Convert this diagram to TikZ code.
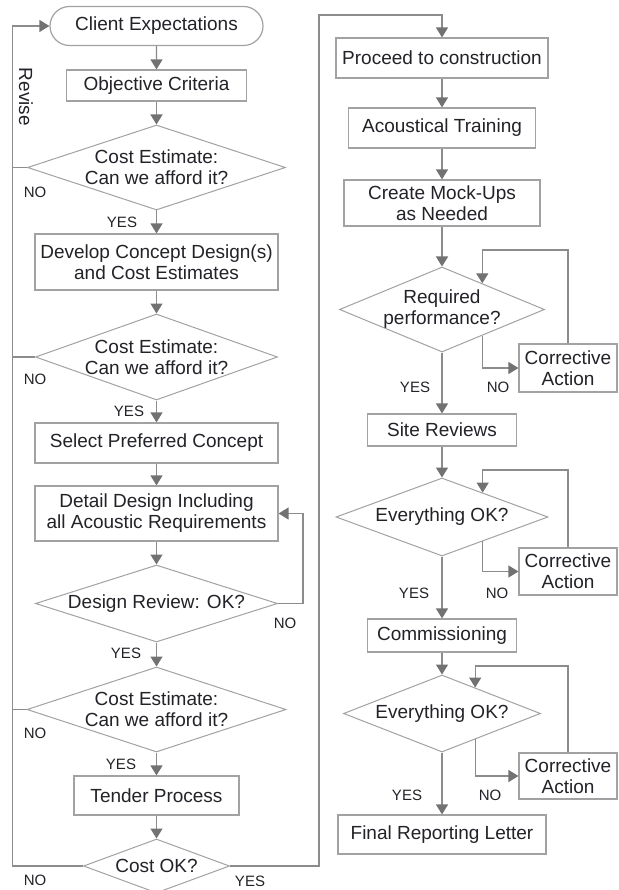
\documentclass[tikz,border=0pt]{standalone}
\usepackage{fontspec}
\setmainfont{Liberation Sans}
\usetikzlibrary{shapes.geometric,shapes.misc,arrows.meta}
\definecolor{ln}{HTML}{8C8C8C}
\definecolor{bd}{HTML}{A2A2A2}
\definecolor{tx}{HTML}{222228}
\definecolor{ah}{HTML}{727272}
\begin{document}
\begin{tikzpicture}[x=1pt,y=-1pt,
  box/.style={draw=bd,line width=1.2pt,rectangle,inner sep=0pt,fill=white,text=tx,
    font=\fontsize{19}{21}\selectfont,align=center},
  term/.style={box,rounded rectangle},
  dia/.style={draw=bd,line width=1pt,diamond,inner sep=0pt,aspect=1},
  txt/.style={text=tx,font=\fontsize{19}{21}\selectfont,align=center,inner sep=0pt},
  lab/.style={text=tx,font=\fontsize{15}{17}\selectfont,inner sep=0pt},
  conn/.style={draw=ln,line width=1.3pt},
  arr/.style={conn,-{Triangle[width=12pt,length=10pt,color=ah]}},
]
\useasboundingbox[fill=white] (0,0) rectangle (618,890);

% ---------- left column ----------
\node[term,minimum width=213pt,minimum height=39pt] (ce) at (156.5,26) {Client Expectations};
\node[box,minimum width=180pt,minimum height=31pt] (oc) at (156.5,85.5) {Objective Criteria};
\node[dia,minimum width=258pt,minimum height=85pt] (d1) at (156.5,167.5) {};
\node[txt] (d1t) at (d1) {Cost Estimate:\\Can we afford it?};
\node[box,minimum width=243pt,minimum height=56pt] (dev) at (156.5,262) {Develop Concept Design(s)\\and Cost Estimates};
\node[dia,minimum width=242pt,minimum height=86pt] (d2) at (156.5,357) {};
\node[txt] (d2t) at (d2) {Cost Estimate:\\Can we afford it?};
\node[box,minimum width=243pt,minimum height=40pt] (sel) at (156.5,443) {Select Preferred Concept};
\node[box,minimum width=243pt,minimum height=55pt] (det) at (156.5,513.5) {Detail Design Including\\all Acoustic Requirements};
\node[dia,minimum width=242pt,minimum height=77pt] (d3) at (156.5,603.5) {};
\node[txt] (d3t) at (d3) {Design Review: OK?};
\node[dia,minimum width=259pt,minimum height=85pt] (d4) at (156.5,709.5) {};
\node[txt] (d4t) at (d4) {Cost Estimate:\\Can we afford it?};
\node[box,minimum width=165pt,minimum height=39pt] (ten) at (156.5,795.5) {Tender Process};
\node[dia,minimum width=146pt,minimum height=54pt] (d5) at (156.5,866) {};
\node[txt] (d5t) at (d5) {Cost OK?};

% ---------- right column ----------
\node[box,minimum width=212pt,minimum height=40pt] (pro) at (442,58) {Proceed to construction};
\node[box,minimum width=187pt,minimum height=40pt] (acu) at (442,128) {Acoustical Training};
\node[box,minimum width=196pt,minimum height=46pt] (moc) at (442,203) {Create Mock-Ups\\as Needed};
\node[dia,minimum width=205pt,minimum height=85pt] (rp) at (442,309.5) {};
\node[txt] (rpt) at (rp) {Required\\performance?};
\node[box,minimum width=98pt,minimum height=48pt] (ca1) at (568,368) {Corrective\\Action};
\node[box,minimum width=149pt,minimum height=32pt] (sr) at (442,430) {Site Reviews};
\node[dia,minimum width=212pt,minimum height=78pt] (ok1) at (442,517) {};
\node[txt] (ok1t) at (ok1) {Everything OK?};
\node[box,minimum width=98pt,minimum height=47pt] (ca2) at (568,571.5) {Corrective\\Action};
\node[box,minimum width=149pt,minimum height=33pt] (com) at (442,635.5) {Commissioning};
\node[dia,minimum width=197pt,minimum height=77pt] (ok2) at (442,713.5) {};
\node[txt] (ok2t) at (ok2) {Everything OK?};
\node[box,minimum width=98pt,minimum height=46pt] (ca3) at (568,776) {Corrective\\Action};
\node[box,minimum width=208pt,minimum height=39pt] (fin) at (442,834.5) {Final Reporting Letter};

% ---------- helper coordinates ----------
\coordinate (lx) at (12.5,0);
\coordinate (dr) at (303,0);
\coordinate (rx) at (319,15);
\coordinate (rt) at (442,15);
\coordinate (fb1) at (0,250);
\coordinate (fb2) at (0,470);
\coordinate (fb3) at (0,666);

% ---------- left connectors ----------
\draw[arr] (ce) -- (oc);
\draw[arr] (oc) -- (d1.north);
\draw[arr] (d1.south) -- (dev);
\draw[arr] (dev) -- (d2.north);
\draw[arr] (d2.south) -- (sel);
\draw[arr] (sel) -- (det);
\draw[arr] (det) -- (d3.north);
\draw[arr] (d3.south) -- (d4.north);
\draw[arr] (d4.south) -- (ten);
\draw[arr] (ten) -- (d5.north);

\draw[arr] (d5.west) -- (d5.west -| lx) -- (lx |- ce.west) -- (ce.west);
\draw[conn] (d1.west) -- (d1.west -| lx);
\draw[conn] (d2.west) -- (d2.west -| lx);
\draw[conn] (d4.west) -- (d4.west -| lx);
\draw[arr] (d3.east) -- (d3.east -| dr) |- (det.east);

\draw[arr] (d5.east) -| (rx) -- (rt) -- (pro.north);

% ---------- right connectors ----------
\draw[arr] (pro) -- (acu);
\draw[arr] (acu) -- (moc);
\draw[arr] (moc) -- (rp.north);
\draw[arr] (rp.south) -- (sr);
\draw[arr] (sr) -- (ok1.north);
\draw[arr] (ok1.south) -- (com);
\draw[arr] (com) -- (ok2.north);
\draw[arr] (ok2.south) -- (fin);

\draw[arr] (rp.-33) |- (ca1.west);
\draw[arr] (ca1.north) |- (rp.33 |- fb1) -- (rp.33);
\draw[arr] (ok1.-31) |- (ca2.west);
\draw[arr] (ca2.north) |- (ok1.31 |- fb2) -- (ok1.31);
\draw[arr] (ok2.-38) |- (ca3.west);
\draw[arr] (ca3.north) |- (ok2.38 |- fb3) -- (ok2.38);

% ---------- labels ----------
\node[txt,rotate=-90] (rev) at (26,97) {Revise};
\node[lab] (n1) at (35,192) {NO};
\node[lab] (y1) at (122,222) {YES};
\node[lab] (n2) at (35,379) {NO};
\node[lab] (y2) at (129,411) {YES};
\node[lab] (n3) at (285,623) {NO};
\node[lab] (y3) at (126,653) {YES};
\node[lab] (n4) at (35,733) {NO};
\node[lab] (y4) at (121,764) {YES};
\node[lab] (n5) at (35,880) {NO};
\node[lab] (y5) at (250,881) {YES};
\node[lab] (y6) at (415,387) {YES};
\node[lab] (n6) at (498,387) {NO};
\node[lab] (y7) at (414,593) {YES};
\node[lab] (n7) at (497,593) {NO};
\node[lab] (y8) at (407,795) {YES};
\node[lab] (n8) at (490,795) {NO};
\end{tikzpicture}
\end{document}
